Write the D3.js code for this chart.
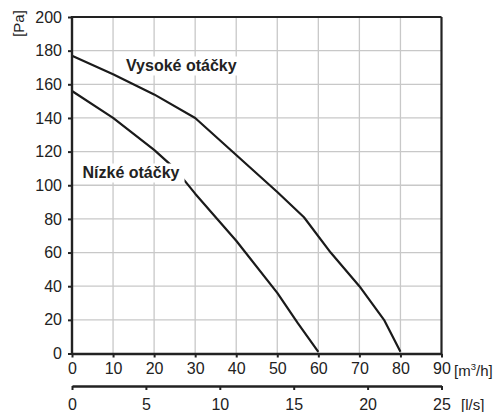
<!DOCTYPE html>
<html><head><meta charset="utf-8">
<script src="https://d3js.org/d3.v7.min.js"></script>
<style>body{margin:0;background:#fff}svg{display:block}text{font-family:"Liberation Sans",Arial,sans-serif;fill:#222}</style>
</head><body><svg id="c" width="501" height="412"></svg>
<script>
const xTicks = [0,10,20,30,40,50,60,70,80,90];
const yTicks = [0,20,40,60,80,100,120,140,160,180,200];
const lsTicks = [0,5,10,15,20,25];
const highX = [0,10,20,30,40,50,56.5,63,70,76,80];
const highY = [177,166,154,140,118,96,81,60,40,20,1];
const lowX = [0,10,20,25,30,40,50,55,60];
const lowY = [156,140,121,110,95,67,36,18,1];
const seriesNames = ["Vysoké otáčky","Nízké otáčky"];

const svg = d3.select("#c");
const x = d3.scaleLinear().domain([0,90]).range([72,441.5]);
const y = d3.scaleLinear().domain([0,200]).range([353.5,17]);
const x2 = d3.scaleLinear().domain([0,25]).range([72,441.5]);

const g = svg.append("g");
// grid
g.selectAll(".vg").data(xTicks.slice(1,-1)).join("line")
 .attr("x1",d=>x(d)).attr("x2",d=>x(d)).attr("y1",y(0)).attr("y2",y(200))
 .attr("stroke","#c8c8c8").attr("stroke-width",1.3);
g.selectAll(".hg").data(yTicks.slice(1,-1)).join("line")
 .attr("y1",d=>y(d)).attr("y2",d=>y(d)).attr("x1",x(0)).attr("x2",x(90))
 .attr("stroke","#c8c8c8").attr("stroke-width",1.3);

// curves
const line = d3.line().x(d=>x(d[0])).y(d=>y(d[1])).curve(d3.curveLinear);
const hi = highX.map((v,i)=>[v,highY[i]]);
const lo = lowX.map((v,i)=>[v,lowY[i]]);
[hi,lo].forEach(p=>g.append("path").attr("d",line(p)).attr("fill","none")
 .attr("stroke","#1a1a1a").attr("stroke-width",2.2).attr("stroke-linejoin","round"));

// labels with white bg
function lab(t,xx,yy,padR){
  const tx = g.append("text").attr("x",xx).attr("y",yy).attr("font-size",16)
    .attr("font-weight","bold").text(t);
  const b = tx.node().getBBox();
  g.insert("rect","text").attr("x",b.x-3).attr("y",b.y).attr("width",b.width+3+padR).attr("height",b.height+2).attr("fill","#fff");
}
lab(seriesNames[0],126,70.5,3);
lab(seriesNames[1],82.5,177.5,5);

// frame
g.append("line").attr("x1",x(0)).attr("x2",x(90)).attr("y1",y(200)).attr("y2",y(200)).attr("stroke","#222").attr("stroke-width",2.2);
g.append("line").attr("x1",x(90)).attr("x2",x(90)).attr("y1",y(200)).attr("y2",y(0)).attr("stroke","#222").attr("stroke-width",2.2);

// axes
const fs = 16;
const ax = svg.append("g").attr("transform",`translate(0,${y(0)})`)
 .call(d3.axisBottom(x).tickValues(xTicks).tickSize(4).tickPadding(5).tickSizeOuter(0));
const ay = svg.append("g").attr("transform",`translate(${x(0)},0)`)
 .call(d3.axisLeft(y).tickValues(yTicks).tickSize(4).tickPadding(6).tickSizeOuter(0));
const a2 = svg.append("g").attr("transform",`translate(0,386)`)
 .call(d3.axisBottom(x2).tickValues(lsTicks).tickSize(4).tickPadding(9).tickSizeOuter(0));
[ax,ay,a2].forEach(a=>{
  a.select(".domain").attr("stroke","#222").attr("stroke-width",2.4);
  a.selectAll(".tick line").attr("stroke","#222").attr("stroke-width",2);
  a.selectAll(".tick text").attr("font-size",fs).attr("font-family","Liberation Sans, Arial, sans-serif").attr("fill","#222");
});
ay.select(".domain").attr("d",`M0,${y(0)+1}V${y(200)-1}`);

// unit labels
const u1 = svg.append("text").attr("x",454).attr("y",375.5).attr("font-size",15);
u1.append("tspan").text("[m");
u1.append("tspan").attr("dy",-6).attr("font-size",9.5).text("3");
u1.append("tspan").attr("dy",6).text("/h]");
svg.append("text").attr("x",461).attr("y",410).attr("font-size",15).text("[l/s]");
svg.append("text").attr("transform","translate(23.5,23.5) rotate(-90)").attr("text-anchor","middle")
 .attr("font-size",15).text("[Pa]");
</script></body></html>
